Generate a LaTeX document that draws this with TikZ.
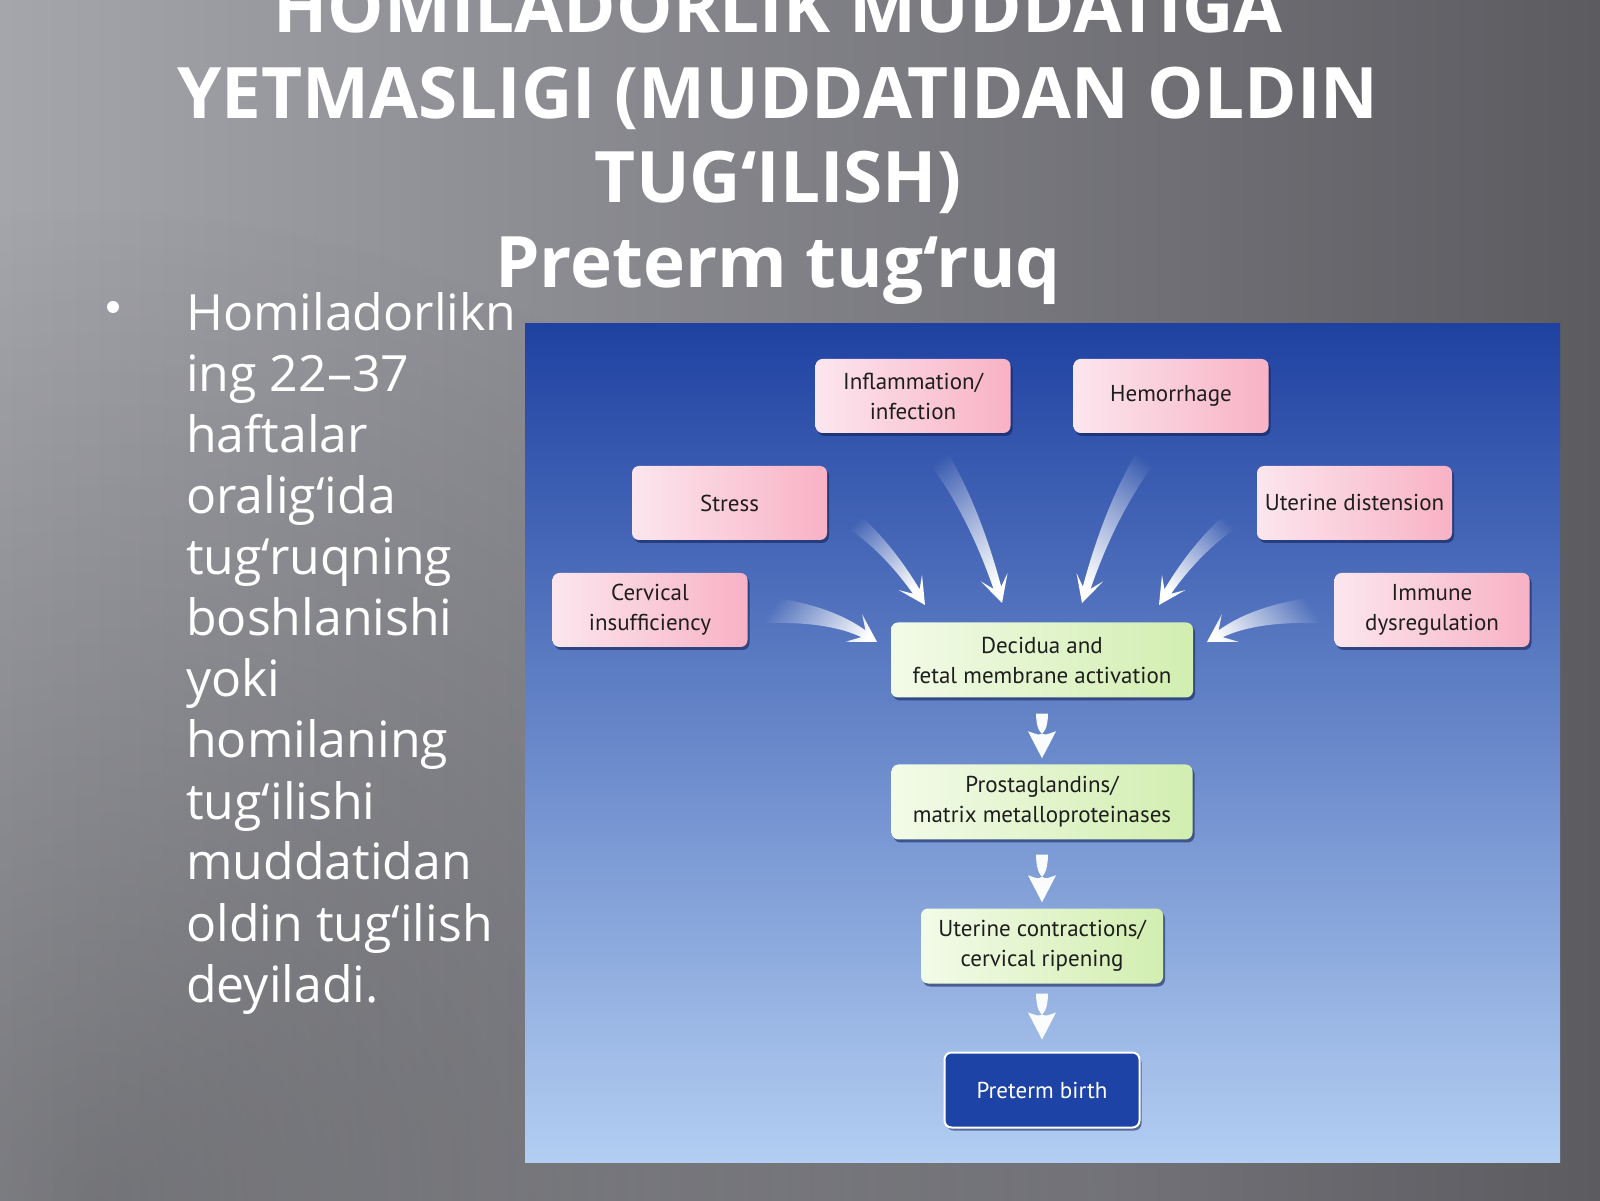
\documentclass[tikz,border=0pt]{standalone}
\usepackage{fontspec}
\setmainfont{Open Sans}
\newfontfamily\diagfont{PT Sans}
\usetikzlibrary{calc,fadings,shadows}

\definecolor{bgL}{HTML}{A5A6AC}
\definecolor{bgM}{HTML}{8A8A90}
\definecolor{bgR}{HTML}{5B5B60}
\definecolor{panT}{HTML}{1F42A2}
\definecolor{panM}{HTML}{5479C8}
\definecolor{panB}{HTML}{B3CEF2}
\definecolor{pinkL}{HTML}{FCE6EE}
\definecolor{pinkR}{HTML}{F8B2C5}
\definecolor{greenL}{HTML}{F2FBE8}
\definecolor{greenR}{HTML}{D2EEB0}
\definecolor{birth}{HTML}{1D43A7}
\definecolor{boxtext}{HTML}{1E1E1E}
\definecolor{shadowc}{HTML}{0E1E50}

\tikzfading[name=tailfade, left color=transparent!100, middle color=transparent!0, right color=transparent!0]
\tikzfading[name=radfade, inner color=transparent!0, outer color=transparent!100]

% tapered arrow: #1 tail, #2 control, #3 tip, #4 tail half-width, #5 barb half-width,
% #6 extra fill options, #7 neck distance from tip, #8 neck half-width
\newcommand\fatarrow[8]{%
  \pgfmathsetmacro\fmid{(#4+#8)/2}%
  \path (#1) coordinate (fT) (#2) coordinate (fC) (#3) coordinate (fP);
  \path ($(fP)!#7pt!(fC)$) coordinate (fN) ($(fP)!27pt!(fC)$) coordinate (fB);
  \path ($(fT)!#4pt!90:(fC)$) coordinate (TL) ($(fT)!#4pt!-90:(fC)$) coordinate (TR)
        ($(fC)!\fmid pt!-90:(fT)$) coordinate (CL) ($(fC)!\fmid pt!90:(fT)$) coordinate (CR)
        ($(fN)!#8pt!-90:(fC)$) coordinate (NL) ($(fN)!#8pt!90:(fC)$) coordinate (NR)
        ($(fB)!#5pt!-90:(fC)$) coordinate (BL) ($(fB)!#5pt!90:(fC)$) coordinate (BR);
  \pgfmathanglebetweenpoints{\pgfpointanchor{fT}{center}}{\pgfpointanchor{fP}{center}}%
  \let\fang\pgfmathresult
  \fill[white, #6]
    (TL) .. controls ($(TL)!0.667!(CL)$) and ($(NL)!0.667!(CL)$) .. (NL)
    -- (BL) -- (fP) -- (BR) -- (NR)
    .. controls ($(NR)!0.667!(CR)$) and ($(TR)!0.667!(CR)$) .. (TR) -- cycle;
}

\tikzset{
  titletext/.style={text=white, font=\bfseries\fontsize{71}{85}\selectfont, anchor=base, inner sep=0},
  bodytext/.style={text=white, font=\fontsize{50}{61}\selectfont, anchor=base west, inner sep=0},
  diagbox/.style={rounded corners=7pt, align=center, text=boxtext, inner sep=0,
    font=\diagfont\fontsize{23}{30}\selectfont,
    drop shadow={shadow xshift=2pt, shadow yshift=-3pt, opacity=0.55, fill=shadowc}},
  causebox/.style={diagbox, left color=pinkL, right color=pinkR, minimum width=195, minimum height=74},
  stepbox/.style={diagbox, left color=greenL, right color=greenR, minimum height=75},
  endbox/.style={diagbox, fill=birth, draw=white, line width=2pt, text=white, minimum width=195, minimum height=75},
  curvefade/.style={path fading=tailfade, fading angle=\fang},
  stemfill/.style={fill opacity=0.97},
}

\begin{document}
\begin{tikzpicture}[x=1pt, y=1pt]
\useasboundingbox (0,0) rectangle (1600,1200);
\clip (0,0) rectangle (1600,1200);

% slide background
\shade[left color=bgL, middle color=bgM, right color=bgR] (0,0) rectangle (1600,1200);
\fill[black, opacity=0.28, path fading=radfade] (100,0) circle (1000);

% title
\node[titletext] (t1) at (778,1167) {HOMILADORLIK MUDDATIGA};
\node[titletext] (t2) at (778,1081) {YETMASLIGI (MUDDATIDAN OLDIN};
\node[titletext] (t3) at (778,997) {TUG‘ILISH)};
\node[titletext] (t4) at (778,912) {Preterm tug‘ruq};

% bullet text
\fill[white] (113,893) circle (6);
\foreach \ln [count=\i from 0] in {Homiladorlikn,ing 22–37,haftalar,oralig‘ida,tug‘ruqning,boshlanishi,yoki,homilaning,tug‘ilishi,muddatidan,oldin tug‘ilish,deyiladi.}
  \node[bodytext] (b\i) at (186,{869-61*\i}) {\ln};

% diagram panel
\shade[top color=panT, middle color=panM, bottom color=panB] (525,38) rectangle (1560,876);

% boxes
\node[causebox] (infl) at (913,804) {Inflammation/\\infection};
\node[causebox] (hem)  at (1171,804) {Hemorrhage};
\node[causebox] (str)  at (729.5,697) {Stress};
\node[causebox] (ute)  at (1354.5,697) {Uterine distension};
\node[causebox] (cer)  at (650,590) {Cervical\\insufficiency};
\node[causebox] (imm)  at (1432,590) {Immune\\dysregulation};

\node[stepbox, minimum width=302] (dec) at (1042,540) {Decidua and\\fetal membrane activation};
\node[stepbox, minimum width=301] (pro) at (1042,398) {Prostaglandins/\\matrix metalloproteinases};
\node[stepbox, minimum width=242] (uc)  at (1042,254) {Uterine contractions/\\cervical ripening};
\node[endbox] (pb) at (1042,110) {Preterm birth};

% curved arrows (tails, bends and tips)
\coordinate (strT) at (848,683); \coordinate (strC) at (886,655); \coordinate (strP) at (925,595);
\coordinate (inflT) at (933,750); \coordinate (inflC) at (972,695); \coordinate (inflP) at (1002,597);
\coordinate (cerT) at (767,590); \coordinate (cerC) at (829,587); \coordinate (cerP) at (877,558);
\coordinate (hemT) at (1151,750); \coordinate (hemC) at (1112,695); \coordinate (hemP) at (1082,597);
\coordinate (uteT) at (1236,683); \coordinate (uteC) at (1198,655); \coordinate (uteP) at (1159,595);
\coordinate (immT) at (1317,590); \coordinate (immC) at (1255,587); \coordinate (immP) at (1207,558);

\fatarrow{strT}{strC}{strP}{9}{14}{curvefade}{16}{4}
\fatarrow{inflT}{inflC}{inflP}{11}{14}{curvefade}{16}{4}
\fatarrow{cerT}{cerC}{cerP}{13}{16}{curvefade}{16}{4}
\fatarrow{hemT}{hemC}{hemP}{11}{14}{curvefade}{16}{4}
\fatarrow{uteT}{uteC}{uteP}{9}{14}{curvefade}{16}{4}
\fatarrow{immT}{immC}{immP}{13}{16}{curvefade}{16}{4}

% straight down arrows
\coordinate (d1T) at ($(dec.south)+(0,-16)$); \coordinate (d1P) at ($(pro.north)+(0,6)$);
\coordinate (d2T) at ($(pro.south)+(0,-15)$); \coordinate (d2P) at ($(uc.north)+(0,6)$);
\coordinate (d3T) at ($(uc.south)+(0,-10)$);  \coordinate (d3P) at ($(pb.north)+(0,12)$);
\coordinate (d1C) at ($(d1T)!0.5!(d1P)$);
\coordinate (d2C) at ($(d2T)!0.5!(d2P)$);
\coordinate (d3C) at ($(d3T)!0.5!(d3P)$);
\fatarrow{d1T}{d1C}{d1P}{6}{14}{stemfill}{24}{5}
\fatarrow{d2T}{d2C}{d2P}{6}{14}{stemfill}{24}{5}
\fatarrow{d3T}{d3C}{d3P}{6}{14}{stemfill}{24}{5}
\end{tikzpicture}
\end{document}
